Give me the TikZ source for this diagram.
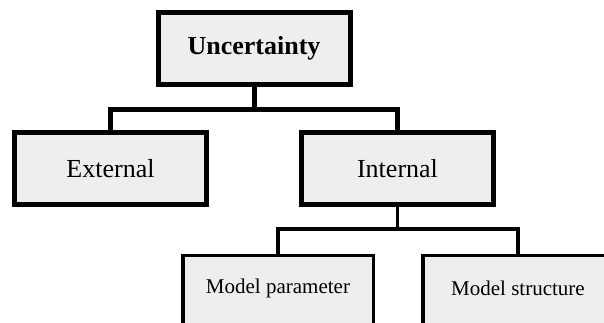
\documentclass[tikz,border=0pt]{standalone}
\usepackage{fontspec}
\setmainfont{Liberation Serif}
\definecolor{boxfill}{HTML}{EEEEEE}
\tikzset{
  bigbox/.style={draw=black, fill=boxfill, line width=5pt, minimum width=192pt, minimum height=72pt, inner sep=0pt, font=\fontsize{26}{30}\selectfont},
  smallbox/.style={draw=black, fill=boxfill, line width=3.5pt, minimum width=190.5pt, minimum height=72pt, inner sep=0pt, font=\fontsize{21}{25}\selectfont},
  thickconn/.style={line width=5pt},
  thinconn/.style={line width=3.5pt}
}
\begin{document}
\begin{tikzpicture}[x=1pt,y=1pt]
\clip (0,0) rectangle (604,-322);
\node[bigbox, font=\fontsize{26}{30}\selectfont\bfseries] (U) at (254,-48.5) {Uncertainty};
\node[bigbox] (E) at (110.5,-168.5) {External};
\node[bigbox] (I) at (397.5,-168.5) {Internal};
\node[smallbox, anchor=north] (P) at (278,-253.75) {};
\node[smallbox, anchor=north] (S) at (518,-253.75) {};
\node[font=\fontsize{21}{25}\selectfont] (Pt) at (278,-288) {Model parameter};
\node[font=\fontsize{21}{25}\selectfont] (St) at (518,-288) {Model structure};
\coordinate (j1) at (254,-109);
\coordinate (j2) at (397.5,-229);
\draw[thickconn] (U.south) -- (j1);
\draw[thickconn] (E.north) -- (E.north|-j1) -- (I.north|-j1) -- (I.north);
\draw[thinconn] (I.south) -- (j2);
\draw[thinconn] (P.north) -- (P.north|-j2) -- (S.north|-j2) -- (S.north);
\end{tikzpicture}
\end{document}
